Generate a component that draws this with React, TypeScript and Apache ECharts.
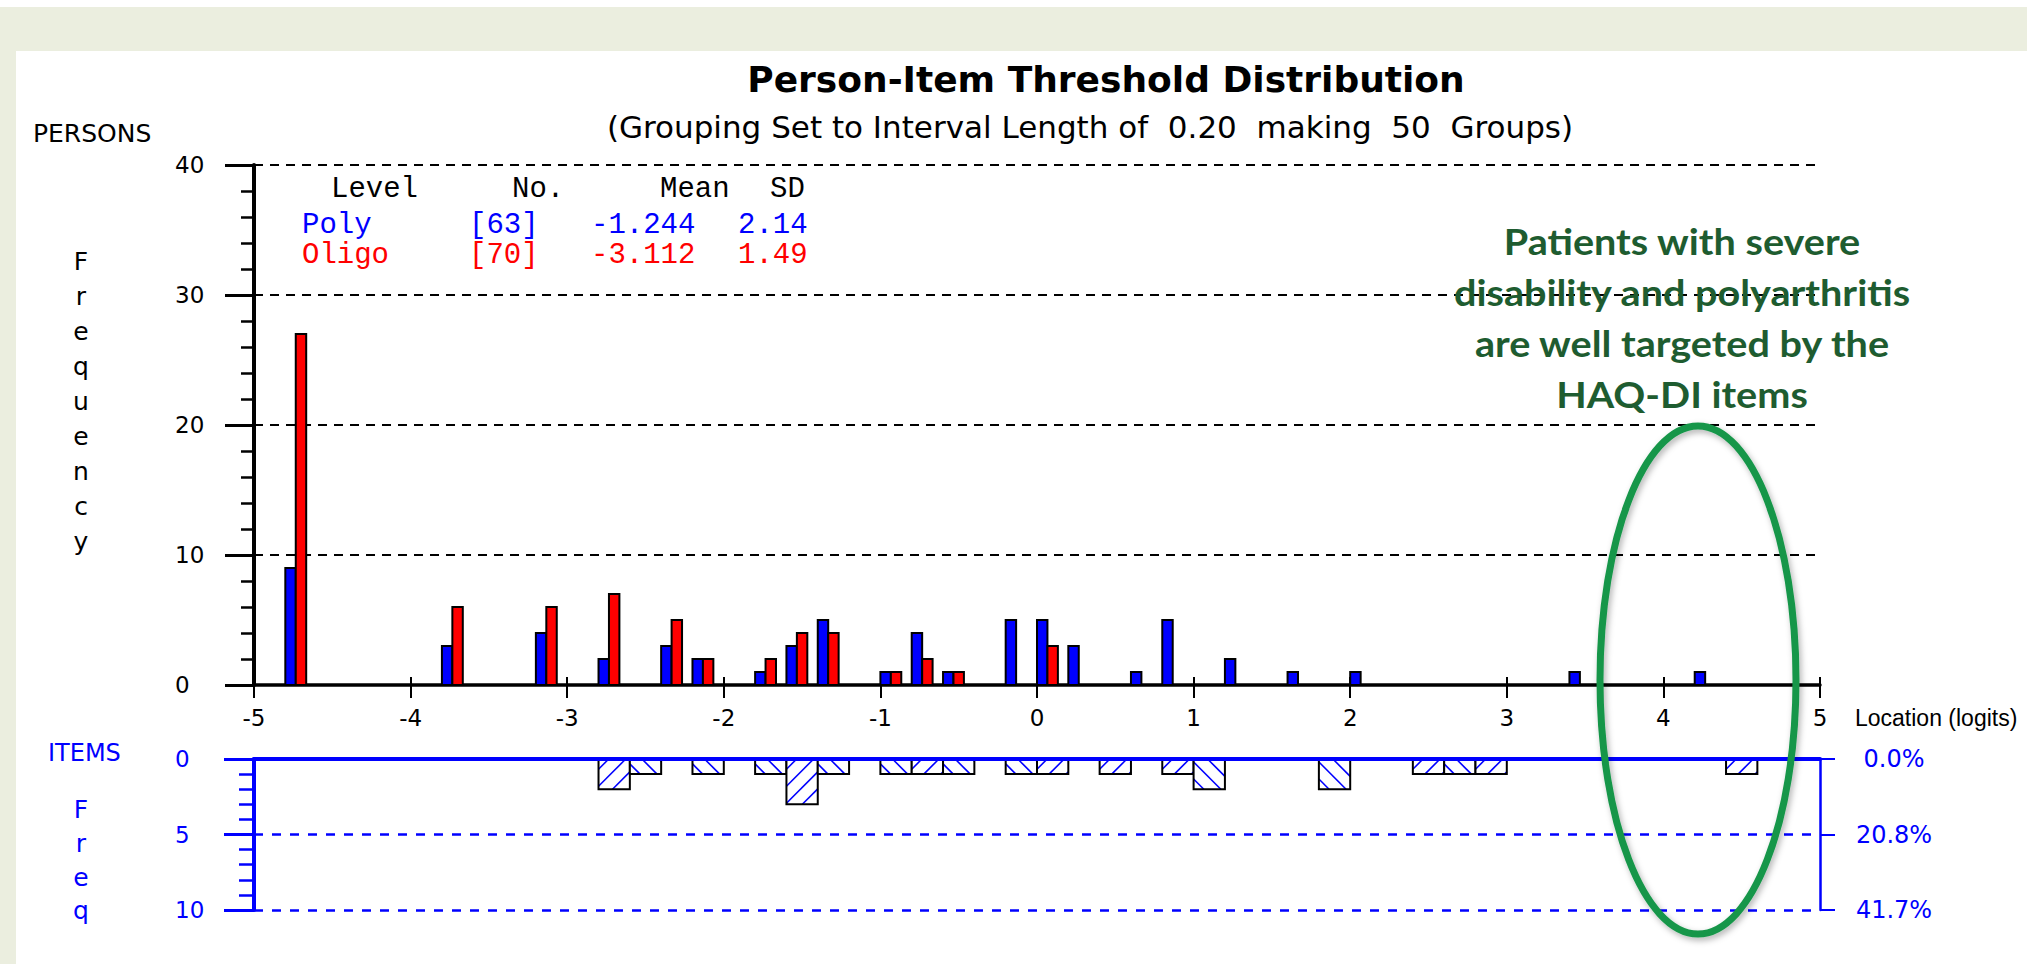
import React, { useEffect, useRef } from "react";
import * as echarts from "echarts";

// ---------------- data ----------------
const binWidth = 0.2;
const xMin = -5;
const xMax = 5;
const personBins = [-4.8, -3.8, -3.2, -2.8, -2.4, -2.2, -1.8, -1.6, -1.4, -1.0, -0.8, -0.6, -0.2, 0.0, 0.2, 0.6, 0.8, 1.2, 1.6, 2.0, 3.4, 4.2];
const polyCounts = [9, 3, 4, 2, 3, 2, 1, 3, 5, 1, 4, 1, 5, 5, 3, 1, 5, 2, 1, 1, 1, 1];
const oligoCounts = [27, 6, 6, 7, 5, 2, 2, 4, 4, 1, 2, 1, 0, 3, 0, 0, 0, 0, 0, 0, 0, 0];
const itemBins = [-2.8, -2.6, -2.2, -1.8, -1.6, -1.4, -1.0, -0.8, -0.6, -0.2, 0.0, 0.4, 0.8, 1.0, 1.8, 2.4, 2.6, 2.8, 4.4];
const itemCounts = [2, 1, 1, 1, 3, 1, 1, 1, 1, 1, 1, 1, 1, 2, 2, 1, 1, 1, 1];
const itemHatch = ["/", "\\", "\\", "\\", "/", "\\", "\\", "/", "\\", "\\", "/", "/", "/", "\\", "\\", "/", "\\", "/", "/"];
const itemPctLabels = ["0.0%", "20.8%", "41.7%"];
const tableHeader = ["Level", "No.", "Mean", "SD"];
const groupNames = ["Poly", "Oligo"];
const groupN = ["[63]", "[70]"];
const groupMean = ["-1.244", "-3.112"];
const groupSD = ["2.14", "1.49"];

const titleText = "Person-Item Threshold Distribution";
const subtitleText = "(Grouping Set to Interval Length of  0.20  making  50  Groups)";
const annotationText = "Patients with severe\ndisability and polyarthritis\nare well targeted by the\nHAQ-DI items";

// ---------------- styles ----------------
const SANS = "'DejaVu Sans', 'Liberation Sans', Arial, sans-serif";
const ARIAL = "'Liberation Sans', Arial, sans-serif";
const MONO = "'Liberation Mono', 'Courier New', monospace";
const BLUE = "#0000ff";
const RED = "#ff0000";
const BG = "#ebeedf";

function personBar(slot: number, color: string) {
  return (params: any, api: any) => {
    const b = api.value(0);
    const v = api.value(1);
    const pTop = api.coord([b + (binWidth * slot) / 3, v]);
    const pBot = api.coord([b + (binWidth * (slot + 1)) / 3, 0]);
    return {
      type: "rect",
      shape: { x: pTop[0], y: pTop[1], width: pBot[0] - pTop[0], height: pBot[1] - pTop[1] },
      style: { fill: color, stroke: "#000", lineWidth: 2 },
    };
  };
}

function itemBar(params: any, api: any) {
  const b = api.value(0);
  const v = api.value(1);
  const dir = api.value(2);
  const p0 = api.coord([b, 0]);
  const p1 = api.coord([b + binWidth, v]);
  const x0 = p0[0], y0 = p0[1], x1 = p1[0], y1 = p1[1];
  const shape = { x: x0, y: y0, width: x1 - x0, height: y1 - y0 };
  const children: any[] = [{ type: "rect", shape, style: { fill: "#fff" } }];
  const step = 17;
  if (dir > 0) {
    for (let k = x0 + y0 + step * 0.6; k < x1 + y1; k += step) {
      const xa = Math.max(x0, k - y1);
      const xb = Math.min(x1, k - y0);
      if (xb - xa > 1.5)
        children.push({ type: "line", shape: { x1: xa, y1: k - xa, x2: xb, y2: k - xb }, style: { stroke: BLUE, lineWidth: 1.6 } });
    }
  } else {
    for (let k = x0 - y1 + step * 0.6; k < x1 - y0; k += step) {
      const xa = Math.max(x0, k + y0);
      const xb = Math.min(x1, k + y1);
      if (xb - xa > 1.5)
        children.push({ type: "line", shape: { x1: xa, y1: xa - k, x2: xb, y2: xb - k }, style: { stroke: BLUE, lineWidth: 1.6 } });
    }
  }
  children.push({ type: "rect", shape, style: { fill: "none", stroke: "#000", lineWidth: 2 } });
  return { type: "group", children };
}

function txt(x: number, y: number, text: string, o: any = {}) {
  const { scaleX, z, ...style } = o;
  return {
    type: "text",
    x,
    y,
    scaleX: scaleX ?? 1,
    z: z ?? 50,
    style: { text, fill: "#000", fontFamily: SANS, fontSize: 24, align: "left", verticalAlign: "middle", ...style },
  };
}

function buildOption(): any {
  const polyData = personBins.map((b, i) => [b, polyCounts[i]]).filter((d) => d[1] > 0);
  const oligoData = personBins.map((b, i) => [b, oligoCounts[i]]).filter((d) => d[1] > 0);
  const itemData = itemBins.map((b, i) => [b, itemCounts[i], itemHatch[i] === "/" ? 1 : -1]);

  const tableX = [331, 512, 660, 770];
  const rowX = [302, 469, 591, 738];
  const rowY = [225, 255];
  const rowColor = [BLUE, RED];
  const tableEls: any[] = [];
  tableHeader.forEach((h, i) => tableEls.push(txt(tableX[i], 189, h, { fontFamily: MONO, fontSize: 29 })));
  groupNames.forEach((g, r) => {
    const cells = [g, groupN[r], groupMean[r], groupSD[r]];
    cells.forEach((c, i) => tableEls.push(txt(rowX[i], rowY[r], c, { fontFamily: MONO, fontSize: 29, fill: rowColor[r] })));
  });

  return {
    animation: false,
    backgroundColor: "#ffffff",
    grid: [
      { left: 254, top: 165, width: 1566, height: 520 },
      { left: 254, top: 759, width: 1566, height: 151 },
    ],
    xAxis: [
      {
        gridIndex: 0, type: "value", min: xMin, max: xMax, interval: 1, position: "bottom",
        axisLine: { show: true, onZero: false, lineStyle: { color: "#000", width: 3.5 } },
        axisTick: { show: true, length: 13, lineStyle: { color: "#000", width: 2 } },
        axisLabel: { color: "#000", fontFamily: SANS, fontSize: 23, margin: 21 },
        splitLine: { show: false },
      },
      {
        gridIndex: 0, type: "value", min: xMin, max: xMax, interval: 1, position: "bottom",
        axisLine: { show: false, onZero: false },
        axisTick: { show: true, inside: true, length: 8, lineStyle: { color: "#000", width: 2 } },
        axisLabel: { show: false },
        splitLine: { show: false },
      },
      {
        gridIndex: 1, type: "value", min: xMin, max: xMax, interval: 1, position: "top", z: 10,
        axisLine: { show: true, onZero: false, lineStyle: { color: BLUE, width: 4 } },
        axisTick: { show: false },
        axisLabel: { show: false },
        splitLine: { show: false },
      },
    ],
    yAxis: [
      {
        gridIndex: 0, type: "value", min: 0, max: 40, interval: 10, position: "left",
        axisLine: { show: true, onZero: false, lineStyle: { color: "#000", width: 4 } },
        axisTick: { show: true, length: 29, lineStyle: { color: "#000", width: 3 } },
        minorTick: { show: true, splitNumber: 5, length: 13, lineStyle: { color: "#000", width: 2.5 } },
        axisLabel: { color: "#000", fontFamily: SANS, fontSize: 23, margin: 79, align: "left" },
        splitLine: { show: true, lineStyle: { color: "#000", type: [9, 7], width: 2 } },
      },
      {
        gridIndex: 1, type: "value", min: 0, max: 10, interval: 5, inverse: true, position: "left",
        axisLine: { show: true, onZero: false, lineStyle: { color: BLUE, width: 4 } },
        axisTick: { show: true, length: 30, lineStyle: { color: BLUE, width: 3 } },
        minorTick: { show: true, splitNumber: 5, length: 15, lineStyle: { color: BLUE, width: 2.5 } },
        axisLabel: { color: BLUE, fontFamily: SANS, fontSize: 23, margin: 79, align: "left", padding: [0, 0, 12, 0] },
        splitLine: { show: true, lineStyle: { color: BLUE, type: [9, 9], width: 2.5 } },
      },
      {
        gridIndex: 1, type: "value", min: 0, max: 10, interval: 5, inverse: true, position: "right",
        axisLine: { show: true, onZero: false, lineStyle: { color: BLUE, width: 2.5 } },
        axisTick: { show: true, length: 15, lineStyle: { color: BLUE, width: 2 } },
        axisLabel: {
          color: BLUE, fontFamily: SANS, fontSize: 24, margin: 74, align: "center",
          formatter: (v: number) => itemPctLabels[Math.round(v / 5)] ?? "",
        },
        splitLine: { show: false },
      },
    ],
    series: [
      { type: "custom", name: "Poly", xAxisIndex: 0, yAxisIndex: 0, data: polyData, renderItem: personBar(0, BLUE), z: 5 },
      { type: "custom", name: "Oligo", xAxisIndex: 0, yAxisIndex: 0, data: oligoData, renderItem: personBar(1, RED), z: 5 },
      { type: "custom", name: "Items", xAxisIndex: 2, yAxisIndex: 1, data: itemData, renderItem: itemBar, z: 3 },
    ],
    graphic: [
      { type: "rect", shape: { x: 0, y: 7, width: 2027, height: 44 }, style: { fill: BG }, z: -10 },
      { type: "rect", shape: { x: 0, y: 7, width: 16, height: 957 }, style: { fill: BG }, z: -10 },
      txt(1106, 79, titleText, { fontSize: 36, fontWeight: "bold", align: "center" }),
      txt(1090, 127, subtitleText, { fontSize: 31, align: "center" }),
      txt(33, 133, "PERSONS", { fontSize: 25 }),
      txt(81, 244, "F\nr\ne\nq\nu\ne\nn\nc\ny", { fontSize: 25, lineHeight: 35, align: "center", verticalAlign: "top" }),
      txt(48, 753, "ITEMS", { fontSize: 24, fill: BLUE }),
      txt(81, 793, "F\nr\ne\nq", { fontSize: 25, lineHeight: 33.7, align: "center", verticalAlign: "top", fill: BLUE }),
      txt(1855, 718, "Location (logits)", { fontFamily: ARIAL, fontSize: 23 }),
      ...tableEls,
      txt(1682, 215, annotationText, {
        fontFamily: "Lato, 'Open Sans', sans-serif", fontWeight: "bold", fontSize: 37, lineHeight: 51,
        align: "center", verticalAlign: "top", fill: "#1e5c30", z: 100, scaleX: 1.07,
      }),
      {
        type: "ellipse", z: 100,
        shape: { cx: 1698, cy: 680, rx: 98, ry: 254 },
        style: { fill: "none", stroke: "#18964a", lineWidth: 7, shadowBlur: 6, shadowColor: "rgba(0,0,0,0.3)", shadowOffsetX: 2, shadowOffsetY: 3 },
      },
    ],
  };
}

export default function App() {
  const ref = useRef<HTMLDivElement>(null);
  useEffect(() => {
    document.body.style.margin = "0";
    const chart = echarts.init(ref.current as HTMLDivElement, undefined, { renderer: "svg" });
    chart.setOption(buildOption());
    return () => chart.dispose();
  }, []);
  return (
    <div
      ref={ref}
      style={{ position: "absolute", left: 0, top: 0, width: 2027, height: 964, background: "#fff" }}
    />
  );
}
